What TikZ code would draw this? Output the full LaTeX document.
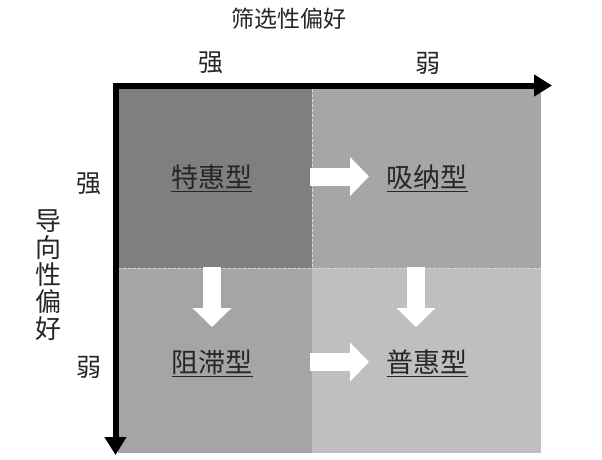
\documentclass[tikz,border=0pt]{standalone}
\usepackage{fontspec}
\setmainfont{Noto Sans CJK SC}
\usetikzlibrary{arrows.meta}
\definecolor{qa}{HTML}{7F7F7F}
\definecolor{qb}{HTML}{A6A6A6}
\definecolor{qc}{HTML}{A5A5A5}
\definecolor{qd}{HTML}{BFBFBF}
\definecolor{txt}{HTML}{262626}
\definecolor{dash}{HTML}{D9D9D9}
\tikzset{
  quadlabel/.style={text=txt, font=\fontsize{27}{30}\selectfont, inner sep=0pt},
  axislabel/.style={text=txt, font=\fontsize{25}{28}\selectfont, inner sep=0pt},
  blockarrow/.style={draw=white, line width=18pt, -{Triangle[length=19pt,width=38pt]}},
  axisline/.style={draw=black, line width=6pt, -{Triangle[length=18pt,width=21pt]}},
  divider/.style={draw=dash, line width=1pt, dash pattern=on 3pt off 2pt},
}
\begin{document}
\begin{tikzpicture}[x=1pt,y=-1pt]
\useasboundingbox (0,0) rectangle (602,460);
% quadrants
\fill[qa] (118,89) rectangle (312,268);
\fill[qb] (312,89) rectangle (541,268);
\fill[qc] (118,268) rectangle (312,453);
\fill[qd] (312,268) rectangle (541,453);
\draw[divider] (118,268) -- (541,268);
\draw[divider] (312,89) -- (312,268);
% axes
\coordinate (o) at (115.5,82.5);
\coordinate (hs0) at (112.5,85.5);
\coordinate (hx) at (552,85.5);
\coordinate (vy) at (115.5,455);
\draw[axisline] (hs0) -- (hx);
\draw[axisline] (o) -- (vy);
% axis labels
\node[text=txt, font=\fontsize{23}{26}\selectfont, inner sep=0pt] (title) at (289,19) {筛选性偏好};
\node[axislabel] (hs) at (211,63) {强};
\node[axislabel] (hw) at (428,63) {弱};
\node[axislabel] (vs) at (89,184) {强};
\node[axislabel] (vw) at (89,367) {弱};
\node[text=txt, font=\fontsize{26}{27}\selectfont, inner sep=0pt, align=center] (vt) at (48,275) {导\\向\\性\\偏\\好};
% quadrant labels
\node[quadlabel] (a) at (211.5,178) {\underline{特惠型}};
\node[quadlabel] (b) at (427,178) {\underline{吸纳型}};
\node[quadlabel] (c) at (212,363) {\underline{阻滞型}};
\node[quadlabel] (d) at (427,363) {\underline{普惠型}};
% block arrows
\coordinate (ab1) at (310,176.5);
\coordinate (ab2) at (369,176.5);
\coordinate (cd1) at (310,362);
\coordinate (cd2) at (369,362);
\coordinate (ac1) at (212,267);
\coordinate (ac2) at (212,327);
\coordinate (bd1) at (416,267);
\coordinate (bd2) at (416,327);
\draw[blockarrow] (ab1) -- (ab2);
\draw[blockarrow] (cd1) -- (cd2);
\draw[blockarrow] (ac1) -- (ac2);
\draw[blockarrow] (bd1) -- (bd2);
\end{tikzpicture}
\end{document}
